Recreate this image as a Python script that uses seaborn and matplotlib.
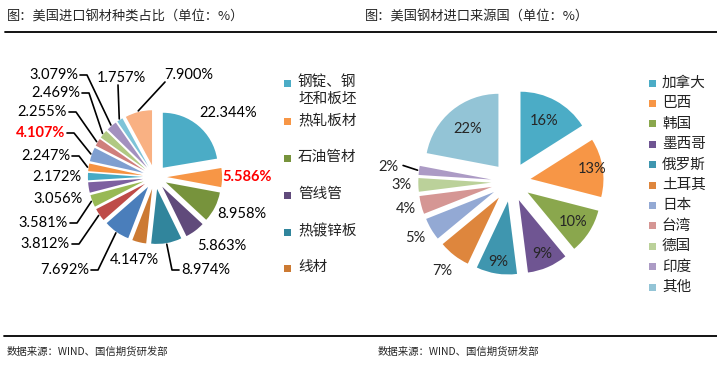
import numpy as np
import matplotlib
matplotlib.use('Agg')
import matplotlib.pyplot as plt
from matplotlib.patches import Rectangle
import seaborn as sns

# left chart: US steel imports by product (%), clockwise from 12 o'clock
product_names = ['钢锭、钢坯和板坯', '热轧板材', '石油管材', '管线管', '热镀锌板', '线材']
product_share = [22.344, 5.586, 8.958, 5.863, 8.974, 4.147, 7.692, 3.812, 3.581,
                 3.056, 2.172, 2.247, 4.107, 2.255, 2.469, 3.079, 1.757, 7.900]
product_red = [1, 12]
product_colors = ['#4BACC6', '#F79646', '#77933C', '#604A7B', '#31859C', '#CC7A33',
                  '#4A7EBB', '#BE4B48', '#98B954', '#7D60A0', '#46AAC5', '#F69240',
                  '#7F9FD0', '#CF7F7C', '#B0C982', '#A391BF', '#7EC4D8', '#F9B183']

# right chart: US steel imports by source country (%)
countries = ['加拿大', '巴西', '韩国', '墨西哥', '俄罗斯', '土耳其', '日本', '台湾', '德国', '印度', '其他']
country_share = [16, 13, 10, 9, 9, 7, 5, 4, 3, 2, 22]
country_colors = ['#4BACC6', '#F79646', '#8AA74D', '#6F5592', '#3F96AF', '#DE863D',
                  '#93A9D4', '#D59694', '#BBD19A', '#AC9BC5', '#93C4D6']

W, H = 717, 370
sns.set_theme(style='white')
plt.rcParams['font.family'] = ['Noto Sans CJK SC', 'DejaVu Sans']
num_font = ['Lato', 'DejaVu Sans']

fig = plt.figure(figsize=(W / 100, H / 100), dpi=100)
bg = fig.add_axes([0, 0, 1, 1])
bg.set_xlim(0, W)
bg.set_ylim(H, 0)
bg.axis('off')


def pie_axes(cx, cy, r, box):
    x0, y0, x1, y1 = box
    ax = fig.add_axes([x0 / W, 1 - y1 / H, (x1 - x0) / W, (y1 - y0) / H])

    def fix():
        # pie() resets the limits, so call this after drawing
        ax.set_xlim((x0 - cx) / r, (x1 - cx) / r)
        ax.set_ylim((cy - y1) / r, (cy - y0) / r)
        ax.set_aspect('equal')
        ax.axis('off')
    to_data = lambda px, py: ((px - cx) / r, (cy - py) / r)
    return ax, to_data, fix


def edge_point(w, d=1.0):
    ang = np.deg2rad((w.theta1 + w.theta2) / 2)
    return w.center[0] + d * w.r * np.cos(ang), w.center[1] + d * w.r * np.sin(ang)


# headers / footers
bg.text(7, 17, '图：美国进口钢材种类占比（单位：%）', fontsize=9.5, va='center')
bg.text(365, 17, '图：美国钢材进口来源国（单位：%）', fontsize=9.5, va='center')
bg.plot([5, W], [32, 32], color='black', lw=1.3)
bg.plot([4, W], [336, 336], color='black', lw=1.3)
bg.text(7, 352, '数据来源：WIND、国信期货研发部', fontsize=7.5, va='center')
bg.text(378, 352, '数据来源：WIND、国信期货研发部', fontsize=7.5, va='center')

# ---- left pie ----
ax1, px1, fix1 = pie_axes(155, 177, 55, (0, 40, 280, 320))
wedges1, _ = ax1.pie(product_share, colors=product_colors, startangle=90, counterclock=False,
                     explode=[0.22] * len(product_share), wedgeprops=dict(linewidth=0))
fix1()

# label spots (px): x, y, alignment, leader
label_spots = [(228, 113, 'center', None), (247, 177, 'center', None), (242, 214, 'center', None),
               (222, 246, 'center', None), (181, 270, 'left', 'h'), (134, 260, 'center', None),
               (89, 270, 'right', 'h'), (70, 244, 'right', 'h'), (68, 223, 'right', 'h'),
               (58, 199, 'center', None), (57, 177, 'center', None), (70, 156, 'right', 'h'),
               (65, 133, 'right', 'h'), (67, 112, 'right', 'h'), (80, 93, 'right', 'h'),
               (78, 75, 'right', 'h'), (121, 78, 'center', 'v'), (189, 75, 'center', 'v')]
for i, (w, val, (lx, ly, ha, lead)) in enumerate(zip(wedges1, product_share, label_spots)):
    red = i in product_red
    ax1.text(*px1(lx, ly), f'{val:.3f}%', ha=ha, va='center', fontsize=10.5, family=num_font,
             color='#FF0000' if red else 'black', fontweight='bold' if red else 'normal')
    if lead is None:
        continue
    ex, ey = edge_point(w, 1.02)
    if lead == 'h':
        sgn = -1 if ha == 'left' else 1
        pts = [px1(lx + sgn * 2, ly), px1(lx + sgn * 9, ly), (ex, ey)]
    else:
        pts = [px1(lx - 3 if lx < 150 else lx - 24, ly + 7), (ex, ey)]
    ax1.plot([p[0] for p in pts], [p[1] for p in pts], color='black', lw=1.2)

# left legend (only the first entries fit)
legend1_y = [83, 121, 158, 195, 232, 268]
for name, col, y in zip(product_names, product_colors, legend1_y):
    bg.add_patch(Rectangle((284, y - 3.5), 7, 7, color=col, lw=0))
    txt = '\n'.join(name[k:k + 4] for k in range(0, len(name), 4))
    bg.text(298, y - 8, txt, fontsize=10.5, va='top', linespacing=1.3, color='#222222')

# ---- right pie ----
ax2, px2, fix2 = pie_axes(511, 182, 73, (370, 40, 640, 320))
wedges2, _ = ax2.pie(country_share, colors=country_colors, startangle=90, counterclock=False,
                     explode=[0.27] * len(country_share), wedgeprops=dict(linewidth=0))
fix2()
label_dist = [0.68, 0.86, 0.74, 0.8, 0.84, 1.27, 1.25, 1.22, 1.23, 1.42, 0.67]
for w, val, d in zip(wedges2, country_share, label_dist):
    tx, ty = edge_point(w, d)
    ax2.text(tx, ty, f'{val}%', ha='center', va='center', fontsize=10.5, family=num_font)
    if d > 1.3:
        a = edge_point(w, 1.22)
        b = edge_point(w, 1.02)
        ax2.plot([a[0], b[0]], [a[1] + 0.04, b[1]], color='black', lw=1.2)

for i, (name, col) in enumerate(zip(countries, country_colors)):
    y = 83 + 20.4 * i
    bg.add_patch(Rectangle((648.5, y - 3.5), 7, 7, color=col, lw=0))
    bg.text(662, y, name, fontsize=10.5, va='center', color='#222222')

fig.savefig('out.png', dpi=100)
